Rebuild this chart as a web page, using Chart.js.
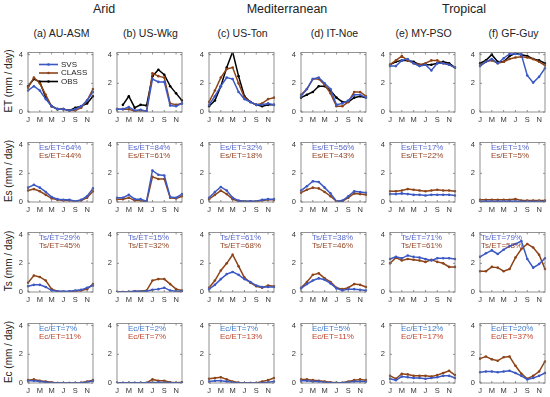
<!DOCTYPE html>
<html>
<head>
<meta charset="utf-8">
<script src="https://cdn.jsdelivr.net/npm/chart.js@4.4.0/dist/chart.umd.min.js"></script>
<style>
  body { margin: 0; background: #fff; font-family: "Liberation Sans", Arial, sans-serif; }
  #wrap { position: relative; width: 550px; height: 397px; overflow: hidden; }
  canvas { position: absolute; }
  .t { position: absolute; color: #222; white-space: nowrap; transform: translate(-50%, -50%); }
  .yl { position: absolute; color: #222; white-space: nowrap; font-size: 10px; transform: translate(-50%, -50%) rotate(-90deg); }
</style>
</head>
<body>
<div id="wrap"></div>
<script>
var months = ["J", "F", "M", "A", "M", "J", "J", "A", "S", "O", "N", "D"];
var regions = ["Arid", "Mediterranean", "Tropical"];
var sites = ["(a) AU-ASM", "(b) US-Wkg", "(c) US-Ton", "(d) IT-Noe", "(e) MY-PSO", "(f) GF-Guy"];
var rowNames = ["ET", "Es", "Ts", "Ec"];
var yTicks = [0, 2, 4];

// ET (mm/day), one array per site
var etSvs = [
  [1.5, 1.8, 1.5, 0.9, 0.4, 0.2, 0.2, 0.1, 0.2, 0.4, 0.8, 1.4],
  [0.2, 0.2, 0.35, 0.1, 0.15, 0.05, 2.3, 2.1, 2.1, 0.45, 0.4, 0.6],
  [0.5, 1.1, 1.8, 2.4, 2.3, 1.4, 0.9, 0.7, 0.5, 0.5, 0.6, 0.5],
  [1.1, 1.6, 2.3, 2.4, 2.0, 1.6, 0.5, 0.6, 0.8, 1.2, 1.2, 1.0],
  [3.2, 3.2, 3.6, 3.7, 3.4, 3.2, 3.3, 2.9, 3.4, 3.4, 3.3, 3.1],
  [3.2, 3.5, 3.7, 3.4, 3.75, 4.05, 4.05, 4.0, 2.55, 2.05, 2.45, 3.05]
];
var etClass = [
  [1.7, 2.4, 2.0, 1.2, 0.4, 0.2, 0.2, 0.1, 0.1, 0.3, 0.8, 1.6],
  [0.2, 0.2, 0.2, 0.05, 0.1, 0.05, 2.7, 2.5, 2.4, 0.6, 0.5, 0.6],
  [0.7, 1.5, 2.4, 3.0, 3.1, 2.0, 1.0, 0.7, 0.5, 0.6, 0.9, 1.0],
  [1.2, 1.6, 2.3, 2.3, 1.9, 1.3, 0.4, 0.4, 0.7, 1.4, 1.4, 1.1],
  [3.3, 3.6, 3.9, 3.6, 3.4, 3.3, 3.4, 3.6, 3.6, 3.4, 3.3, 3.1],
  [3.25, 3.5, 3.6, 3.4, 3.5, 3.7, 3.8, 3.85, 3.8, 3.7, 3.5, 3.25]
];
var etObs = [
  [1.8, 2.3, 2.1, 1.0, 0.4, 0.2, 0.2, 0.1, 0.3, 0.4, 0.6, 1.1],
  [null, 0.5, 1.1, 0.3, 0.5, 0.45, 2.5, 2.95, 2.6, 1.8, 1.3, 0.8],
  [0.4, 0.8, 1.8, 3.1, 4.2, 2.5, 1.1, 0.7, 0.5, 0.4, 0.5, 0.5],
  [1.0, 1.2, 1.4, 1.8, 1.8, 1.5, 1.0, 0.7, 0.7, 1.0, 1.1, 1.0],
  [3.3, 3.5, 3.6, 3.6, 3.5, 3.3, 3.3, 3.3, 3.4, 3.5, 3.4, 3.1],
  [3.4, 3.6, 4.0, 3.5, 3.5, 3.9, 4.1, 4.0, 3.9, 3.7, 3.6, 3.4]
];

// Es (soil evaporation)
var esSvs = [
  [1.0, 1.2, 1.0, 0.7, 0.35, 0.2, 0.15, 0.15, 0.05, 0.15, 0.4, 0.95],
  [0.3, 0.3, 0.5, 0.2, 0.2, 0.05, 2.2, 1.9, 1.85, 0.35, 0.3, 0.55],
  [0.3, 0.7, 1.05, 0.8, 0.3, 0.1, 0.05, 0.05, 0.05, 0.15, 0.2, 0.2],
  [0.8, 1.1, 1.45, 1.4, 1.0, 0.6, 0.05, 0.1, 0.4, 0.75, 0.7, 0.65],
  [0.55, 0.55, 0.6, 0.55, 0.5, 0.5, 0.45, 0.5, 0.5, 0.5, 0.5, 0.45],
  [0.05, 0.05, 0.05, 0.05, 0.05, 0.05, 0.05, 0.03, 0.03, 0.03, 0.03, 0.03]
];
var esClass = [
  [0.8, 0.9, 0.75, 0.5, 0.25, 0.15, 0.1, 0.1, 0.05, 0.1, 0.3, 0.75],
  [0.2, 0.2, 0.3, 0.1, 0.1, 0.0, 1.75, 1.6, 1.6, 0.3, 0.25, 0.4],
  [0.2, 0.5, 0.8, 0.55, 0.2, 0.05, 0.05, 0.05, 0.05, 0.1, 0.15, 0.15],
  [0.65, 0.85, 1.0, 0.95, 0.7, 0.4, 0.05, 0.05, 0.3, 0.6, 0.55, 0.5],
  [0.75, 0.75, 0.8, 0.9, 0.85, 0.8, 0.75, 0.8, 0.85, 0.8, 0.8, 0.75],
  [0.15, 0.15, 0.15, 0.15, 0.15, 0.15, 0.2, 0.1, 0.1, 0.1, 0.1, 0.1]
];

// Ts (transpiration)
var tsSvs = [
  [0.4, 0.5, 0.5, 0.35, 0.1, 0.05, 0.05, 0.05, 0.1, 0.15, 0.3, 0.45],
  [0.0, 0.0, 0.02, 0.05, 0.05, 0.05, 0.15, 0.2, 0.3, 0.1, 0.05, 0.05],
  [0.2, 0.5, 0.9, 1.25, 1.4, 1.2, 0.9, 0.7, 0.45, 0.35, 0.35, 0.35],
  [0.25, 0.55, 0.8, 0.95, 0.85, 0.6, 0.25, 0.1, 0.2, 0.2, 0.15, 0.1],
  [2.3, 2.45, 2.35, 2.55, 2.45, 2.4, 2.3, 2.2, 2.35, 2.35, 2.35, 2.3],
  [2.45, 2.7, 2.9, 2.65, 2.95, 3.2, 3.35, 3.55, 2.3, 1.7, 1.95, 2.35]
];
var tsClass = [
  [0.65, 1.15, 1.05, 0.8, 0.2, 0.05, 0.02, 0.02, 0.05, 0.1, 0.2, 0.55],
  [0.0, 0.0, 0.0, 0.05, 0.05, 0.1, 0.8, 0.9, 0.9, 0.55, 0.2, 0.1],
  [0.3, 0.8, 1.5, 2.0, 2.6, 1.8, 1.0, 0.65, 0.4, 0.3, 0.45, 0.4],
  [0.3, 0.7, 1.2, 1.3, 0.95, 0.7, 0.3, 0.2, 0.3, 0.55, 0.5, 0.35],
  [2.0, 2.4, 2.2, 2.3, 2.25, 2.2, 2.1, 2.25, 2.1, 2.0, 1.75, 1.75],
  [1.45, 1.45, 1.75, 1.7, 1.45, 1.6, 2.4, 3.0, 3.35, 3.1, 2.6, 1.6]
];

// Ec (interception evaporation)
var ecSvs = [
  [0.15, 0.15, 0.1, 0.05, 0.02, 0.0, 0.0, 0.0, 0.0, 0.02, 0.05, 0.15],
  [0.02, 0.02, 0.02, 0.02, 0.02, 0.02, 0.03, 0.03, 0.03, 0.02, 0.02, 0.02],
  [0.1, 0.15, 0.15, 0.1, 0.05, 0.0, 0.0, 0.0, 0.0, 0.02, 0.05, 0.1],
  [0.15, 0.15, 0.1, 0.1, 0.05, 0.02, 0.01, 0.01, 0.05, 0.1, 0.1, 0.1],
  [0.3, 0.2, 0.45, 0.4, 0.35, 0.35, 0.3, 0.35, 0.4, 0.5, 0.5, 0.35],
  [0.75, 0.8, 0.8, 0.75, 0.8, 0.85, 0.7, 0.5, 0.25, 0.35, 0.5, 0.7]
];
var ecClass = [
  [0.2, 0.25, 0.15, 0.1, 0.05, 0.0, 0.0, 0.0, 0.0, 0.02, 0.1, 0.2],
  [0.0, 0.0, 0.0, 0.0, 0.0, 0.0, 0.25, 0.15, 0.15, 0.05, 0.02, 0.05],
  [0.3, 0.35, 0.4, 0.25, 0.1, 0.03, 0.0, 0.0, 0.0, 0.1, 0.2, 0.35],
  [0.25, 0.25, 0.2, 0.15, 0.1, 0.05, 0.02, 0.02, 0.1, 0.2, 0.25, 0.2],
  [0.5, 0.3, 0.65, 0.6, 0.5, 0.5, 0.5, 0.45, 0.55, 0.7, 0.85, 0.55],
  [1.7, 1.85, 1.65, 1.55, 1.8, 1.85, 1.2, 0.65, 0.3, 0.5, 0.8, 1.5]
];

// share of ET (%) written in each panel
var esPctSvs = [64, 84, 32, 56, 17, 1];
var esPctClass = [44, 61, 18, 43, 22, 5];
var tsPctSvs = [29, 15, 61, 38, 71, 79];
var tsPctClass = [45, 32, 68, 46, 61, 58];
var ecPctSvs = [7, 2, 7, 5, 12, 20];
var ecPctClass = [11, 7, 13, 11, 17, 37];

var SVS_COL = "#3b58c4";
var CLASS_COL = "#8e4418";
var OBS_COL = "#000000";

var colLeft = [28, 117, 209, 301, 390, 480];
var rowTop = [47, 137, 227, 318];
var boxW = 65, boxH = 65;

var wrap = document.getElementById("wrap");

function addText(cls, txt, x, y, size) {
  var d = document.createElement("div");
  d.className = cls;
  d.textContent = txt;
  d.style.left = x + "px";
  d.style.top = y + "px";
  if (size) d.style.fontSize = size + "px";
  wrap.appendChild(d);
}

addText("t", regions[0], 104, 9, 12.5);
addText("t", regions[1], 287, 9, 12.5);
addText("t", regions[2], 464, 9, 12.5);
sites.forEach(function (s, c) { addText("t", s, colLeft[c] + boxW / 2 + 1, 33, 10.5); });
rowNames.forEach(function (r, i) { addText("yl", r + " (mm / day)", 8, rowTop[i] + boxH / 2 + 1); });

var boxPlugin = {
  id: "box",
  afterDraw: function (chart) {
    var a = chart.chartArea, ctx = chart.ctx;
    var xs = chart.scales.x, ys = chart.scales.y;
    ctx.save();
    ctx.strokeStyle = "#777";
    ctx.lineWidth = 0.8;
    ctx.strokeRect(a.left, a.top, a.right - a.left, a.bottom - a.top);
    ctx.beginPath();
    for (var i = 0; i < 12; i += 2) {
      var px = xs.getPixelForValue(i);
      ctx.moveTo(px, a.bottom); ctx.lineTo(px, a.bottom - 2);
      ctx.moveTo(px, a.top); ctx.lineTo(px, a.top + 2);
    }
    yTicks.forEach(function (v) {
      var py = ys.getPixelForValue(v);
      ctx.moveTo(a.left, py); ctx.lineTo(a.left + 2, py);
      ctx.moveTo(a.right, py); ctx.lineTo(a.right - 2, py);
    });
    ctx.stroke();
    ctx.restore();
  }
};

var notePlugin = {
  id: "note",
  afterDatasetsDraw: function (chart, args, opts) {
    if (!opts.lines) return;
    var a = chart.chartArea, ctx = chart.ctx;
    ctx.save();
    ctx.font = "8px 'Liberation Sans', Arial, sans-serif";
    ctx.textBaseline = "middle";
    opts.lines.forEach(function (ln, k) {
      ctx.fillStyle = ln.color;
      ctx.fillText(ln.text, a.left + opts.dx, a.top + 5 + k * 8.5);
    });
    ctx.restore();
  }
};

var legendPlugin = {
  id: "keys",
  afterDatasetsDraw: function (chart, args, opts) {
    if (!opts.show) return;
    var a = chart.chartArea, ctx = chart.ctx;
    ctx.save();
    ctx.font = "8px 'Liberation Sans', Arial, sans-serif";
    ctx.textBaseline = "middle";
    chart.data.datasets.forEach(function (ds, k) {
      var y = a.top + 12 + k * 8.5;
      var x0 = a.left + 11, x1 = a.left + 30;
      ctx.strokeStyle = ds.borderColor;
      ctx.lineWidth = 1.6;
      ctx.beginPath(); ctx.moveTo(x0, y); ctx.lineTo(x1, y); ctx.stroke();
      ctx.fillStyle = ds.borderColor;
      ctx.beginPath(); ctx.arc((x0 + x1) / 2, y, 1.3, 0, Math.PI * 2); ctx.fill();
      ctx.fillStyle = "#222";
      ctx.fillText(ds.label, x1 + 3, y);
    });
    ctx.restore();
  }
};

function series(label, data, color) {
  return {
    label: label, data: data, borderColor: color, backgroundColor: color,
    borderWidth: 1.5, pointRadius: 1.3, pointBorderWidth: 0, pointHoverRadius: 0,
    tension: 0, spanGaps: false
  };
}

var rows = [
  { svs: etSvs, cls: etClass, obs: etObs },
  { svs: esSvs, cls: esClass, pS: esPctSvs, pC: esPctClass, name: "Es", cs: "#5566cc", cc: "#944524" },
  { svs: tsSvs, cls: tsClass, pS: tsPctSvs, pC: tsPctClass, name: "Ts", cs: "#5566cc", cc: "#944524" },
  { svs: ecSvs, cls: ecClass, pS: ecPctSvs, pC: ecPctClass, name: "Ec", cs: "#3a78d0", cc: "#c0452e" }
];

rows.forEach(function (row, r) {
  for (var c = 0; c < 6; c++) {
    var cv = document.createElement("canvas");
    var W = 22 + boxW + 4, H = 4 + boxH + 14;
    cv.width = W; cv.height = H;
    cv.style.left = (colLeft[c] - 22) + "px";
    cv.style.top = (rowTop[r] - 4) + "px";
    cv.style.width = W + "px"; cv.style.height = H + "px";
    wrap.appendChild(cv);

    var ds = [series("SVS", row.svs[c], SVS_COL), series("CLASS", row.cls[c], CLASS_COL)];
    if (row.obs) ds.push(series("OBS", row.obs[c], OBS_COL));

    var lines = null;
    if (row.pS) {
      lines = [
        { text: row.name + "/ET=" + row.pS[c] + "%", color: row.cs },
        { text: row.name + "/ET=" + row.pC[c] + "%", color: row.cc }
      ];
    }

    new Chart(cv.getContext("2d"), {
      type: "line",
      data: { labels: months, datasets: ds },
      options: {
        responsive: false,
        animation: false,
        events: [],
        layout: { padding: { top: 4, right: 4, left: 0, bottom: 0 } },
        plugins: {
          legend: { display: false },
          tooltip: { enabled: false },
          note: { lines: lines, dx: (r === 2 && c === 5) ? 1 : 11 },
          keys: { show: r === 0 && c === 0 }
        },
        scales: {
          x: {
            type: "category",
            offset: false,
            grid: { display: false, drawTicks: false },
            border: { display: false },
            ticks: {
              autoSkip: false, maxRotation: 0, padding: 3,
              color: "#333", font: { size: 7.5 },
              callback: function (v, i) { return i % 2 === 0 ? months[i] : ""; }
            },
            afterFit: function (s) { s.height = 14; }
          },
          y: {
            min: 0, max: 4.15,
            grid: { display: false, drawTicks: false },
            border: { display: false },
            ticks: { color: "#333", font: { size: 7.5 }, padding: 5 },
            afterBuildTicks: function (s) { s.ticks = yTicks.map(function (v) { return { value: v }; }); },
            afterFit: function (s) { s.width = 22; }
          }
        }
      },
      plugins: [boxPlugin, notePlugin, legendPlugin]
    });
  }
});
</script>
</body>
</html>
